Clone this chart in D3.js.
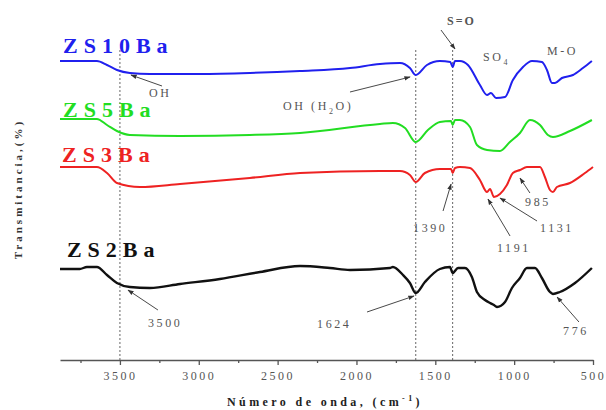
<!DOCTYPE html>
<html>
<head>
<meta charset="utf-8">
<script src="https://cdn.jsdelivr.net/npm/d3@7"></script>
<style>
  body { margin: 0; background: #fff; }
  text { font-family: "Liberation Serif", "DejaVu Serif", serif; }
</style>
</head>
<body>
<script>
// FTIR spectra, wavenumber (cm-1) vs transmittance (arbitrary, offset)
const zs10Wn = [3880, 3646, 3582, 3519, 3437, 3310, 2993, 2676, 2358, 2041, 1851, 1724, 1661, 1624, 1553, 1471, 1405, 1390, 1375, 1344, 1293, 1217, 1172, 1147, 1115, 1058, 1008, 944, 887, 824, 792, 760, 741, 697, 627, 564, 507]
const zs10T  = [299, 299, 295, 290, 287, 286, 286, 287, 289, 292, 296, 297, 292, 285, 295, 299, 298, 293, 299, 299, 295, 275, 265, 267, 262, 263, 280, 293, 299, 298, 290, 277, 277, 282, 285, 292, 299]

const zs5Wn = [3880, 3646, 3582, 3519, 3437, 3119, 2676, 2358, 1851, 1769, 1692, 1624, 1547, 1471, 1400, 1390, 1375, 1344, 1280, 1236, 1172, 1090, 1027, 963, 900, 836, 786, 754, 646, 507]
const zs5T  = [241, 241, 235, 229, 225, 224, 225, 227, 236, 237, 232, 218, 230, 238, 239, 235, 240, 240, 233, 215, 210, 209, 218, 227, 240, 235, 225, 223, 229, 240]

const zs3Wn = [3880, 3646, 3582, 3519, 3373, 3119, 2676, 2358, 1851, 1724, 1661, 1624, 1566, 1471, 1400, 1390, 1375, 1344, 1280, 1217, 1172, 1153, 1128, 1090, 1046, 1008, 963, 919, 836, 805, 773, 754, 729, 646, 551, 500]
const zs3T  = [193, 193, 187, 177, 173, 176, 182, 187, 189, 189, 185, 178, 187, 191, 191, 187, 192, 193, 192, 180, 168, 171, 163, 166, 175, 187, 190, 193, 193, 183, 170, 168, 173, 177, 187, 193]

const zs2Wn = [3880, 3755, 3709, 3646, 3582, 3519, 3437, 3310, 3119, 2866, 2612, 2358, 2168, 2041, 1788, 1769, 1705, 1661, 1624, 1566, 1471, 1407, 1390, 1356, 1312, 1268, 1236, 1185, 1153, 1128, 1109, 1058, 1014, 963, 919, 868, 824, 773, 754, 710, 614, 507]
const zs2T  = [91, 91, 93, 93, 85, 77, 73, 72, 76, 81, 88, 94, 92, 90, 92, 93, 85, 77, 67, 78, 91, 93, 87, 92, 92, 83, 68, 60, 57, 55, 53, 58, 72, 82, 92, 92, 82, 68, 66, 68, 77, 92]

const seriesNames = ['ZS10Ba', 'ZS5Ba', 'ZS3Ba', 'ZS2Ba']
const seriesWn = [zs10Wn, zs5Wn, zs3Wn, zs2Wn]
const seriesT = [zs10T, zs5T, zs3T, zs2T]
// where each name sits, in data units
const labelWn = [3861, 3861, 3867, 3836]
const labelT = [307, 243, 198, 103]

const majorTicks = [3500, 3000, 2500, 2000, 1500, 1000, 500]
const minorTicks = [3750, 3250, 2750, 2250, 1750, 1250, 750]
const guideWn = [3500, 1624, 1390]

// annotations: text at (wn, t); arrow from (tailWn, tailT) to (headWn, headT)
const noteText = ['OH', 'OH (H|2|O)', 'S=O', 'SO|4|', 'M-O', '1390', '1191', '1131', '985', '3500', '1624', '776']
const noteWn   = [3316, 2466, 1426, 1198, 792, 1641, 1109, 836, 931, 3322, 2250, 690]
const noteT    = [263, 250, 335, 299, 305, 128, 108, 128, 154, 33, 32, 25]
const arrowTailWn = [3233, 2041, 1464, null, null, 1451, 1026, 855, 900, 3259, 1933, 589]
const arrowTailT  = [274, 268, 330, null, null, 149, 124, 139, 167, 50, 48, 38]
const arrowHeadWn = [3430, 1660, 1375, null, null, 1400, 1166, 1090, 963, 3449, 1635, 728]
const arrowHeadT  = [285, 283, 311, null, null, 176, 161, 162, 182, 70, 64, 63]

const colors = ['#2020ee', '#22dd22', '#ee2222', '#111111']
const width = 606
const height = 410

const svg = d3.select('body').append('svg')
  .attr('width', width)
  .attr('height', height)

const xScale = d3.scaleLinear().domain([3880, 500]).range([60, 593])
const yScale = d3.scaleLinear().domain([0, 320]).range([360, 40])

svg.append('defs').append('marker')
  .attr('id', 'head')
  .attr('viewBox', '0 0 10 10')
  .attr('refX', 9).attr('refY', 5)
  .attr('markerWidth', 7).attr('markerHeight', 7)
  .attr('orient', 'auto')
  .append('path')
  .attr('d', 'M0,1.5L10,5L0,8.5Z')
  .attr('fill', '#333')

// dashed guides
svg.selectAll('.guide').data(guideWn).enter().append('line')
  .attr('class', 'guide')
  .attr('x1', d => xScale(d)).attr('x2', d => xScale(d))
  .attr('y1', yScale(310)).attr('y2', yScale(0))
  .attr('stroke', '#666')
  .attr('stroke-width', 1)
  .attr('stroke-dasharray', '2,2')

// axis
const axis = svg.append('g')
  .attr('transform', `translate(0,${yScale(0)})`)
  .call(d3.axisBottom(xScale).tickValues(majorTicks).tickFormat(d3.format('d'))
    .tickSize(5).tickSizeOuter(0).tickPadding(6))
axis.select('.domain').attr('stroke', '#555').attr('stroke-width', 1.5)
axis.selectAll('.tick line').attr('stroke', '#555').attr('stroke-width', 1.3)
axis.selectAll('.tick text')
  .attr('font-size', 12)
  .attr('fill', '#555')
  .attr('font-family', 'Liberation Serif')
  .style('letter-spacing', '2.5px')

const minor = svg.append('g')
  .attr('transform', `translate(0,${yScale(0)})`)
  .call(d3.axisBottom(xScale).tickValues(minorTicks).tickSize(3).tickFormat(''))
minor.select('.domain').remove()
minor.selectAll('.tick line').attr('stroke', '#555').attr('stroke-width', 1.3)

// spectra
const line = d3.line()
  .x(d => xScale(d[0]))
  .y(d => yScale(d[1]))
  .curve(d3.curveMonotoneX)

seriesNames.forEach((name, i) => {
  const pts = d3.zip(seriesWn[i], seriesT[i])
  svg.append('path')
    .datum(pts)
    .attr('d', line)
    .attr('fill', 'none')
    .attr('stroke', colors[i])
    .attr('stroke-width', i === 3 ? 2.4 : 2)
    .attr('stroke-linejoin', 'round')

  svg.append('text')
    .attr('x', xScale(labelWn[i]))
    .attr('y', yScale(labelT[i]))
    .attr('fill', colors[i])
    .attr('font-size', 22)
    .attr('font-weight', 'bold')
    .style('letter-spacing', '6px')
    .text(name)
})

// annotations
noteText.forEach((t, i) => {
  const txt = svg.append('text')
    .attr('x', xScale(noteWn[i]))
    .attr('y', yScale(noteT[i]))
    .attr('fill', '#555')
    .attr('font-size', 12)
    .attr('font-family', i === 2 ? 'Liberation Sans' : 'Liberation Serif')
    .attr('font-weight', i === 2 ? 'bold' : 'normal')
    .style('letter-spacing', i === 2 ? '2px' : '2.6px')
  t.split('|').forEach((part, k) => {
    if (!part) return
    const sub = k % 2 === 1
    txt.append('tspan')
      .attr('dy', sub ? 4 : (k > 0 ? -4 : 0))
      .attr('font-size', sub ? 8 : null)
      .text(part)
  })
  if (arrowTailWn[i] != null) {
    svg.append('line')
      .attr('x1', xScale(arrowTailWn[i])).attr('y1', yScale(arrowTailT[i]))
      .attr('x2', xScale(arrowHeadWn[i])).attr('y2', yScale(arrowHeadT[i]))
      .attr('stroke', '#333')
      .attr('stroke-width', 0.9)
      .attr('marker-end', 'url(#head)')
  }
})

// axis titles
const xTitle = svg.append('text')
  .attr('x', 325).attr('y', 406)
  .attr('text-anchor', 'middle')
  .attr('font-size', 12)
  .attr('font-weight', 'bold')
  .attr('fill', '#222')
  .style('letter-spacing', '3.4px')
xTitle.append('tspan').text('Número de onda, (cm')
xTitle.append('tspan').attr('dy', -5).attr('font-size', 8).text('-1')
xTitle.append('tspan').attr('dy', 5).text(')')

svg.append('text')
  .attr('transform', 'translate(22,189) rotate(-90)')
  .attr('text-anchor', 'middle')
  .attr('font-size', 11)
  .attr('font-weight', 'bold')
  .attr('fill', '#333')
  .style('letter-spacing', '3px')
  .text('Transmitancia,(%)')
</script>
</body>
</html>
